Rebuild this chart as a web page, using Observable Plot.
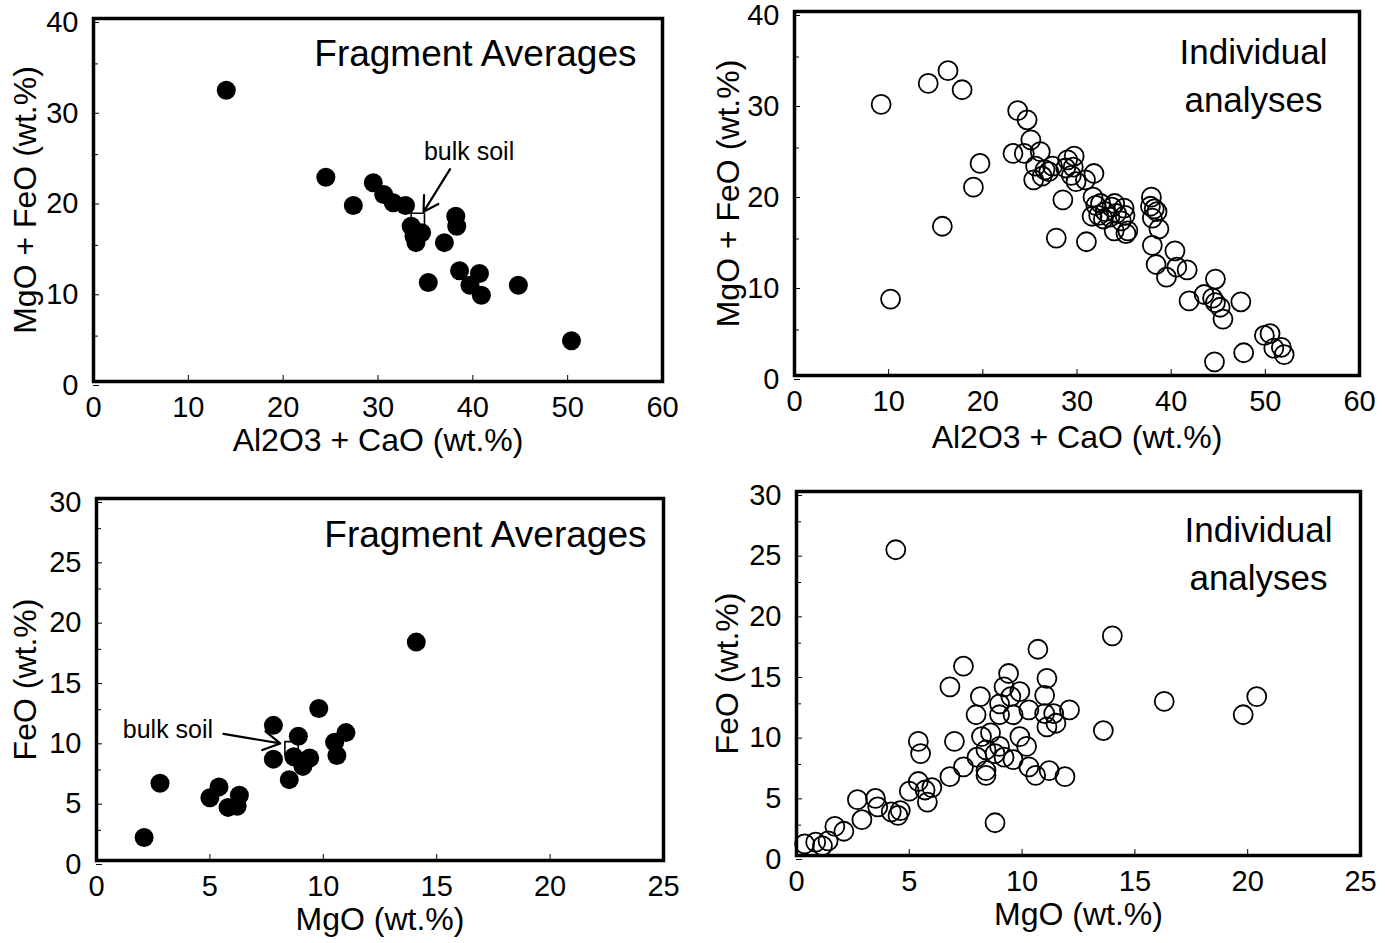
<!DOCTYPE html>
<html><head><meta charset="utf-8">
<script src="https://cdn.jsdelivr.net/npm/d3@7"></script>
<script src="https://cdn.jsdelivr.net/npm/@observablehq/plot@0.6"></script>
<style>
html,body{margin:0;padding:0;background:#fff;}
#wrap{position:relative;width:1385px;height:943px;background:#fff;overflow:hidden;}
.panel{position:absolute;}
</style></head>
<body><div id="wrap"></div>
<script>
// ---------- Data ----------
// Panel 1: Fragment averages, Al2O3+CaO vs MgO+FeO
const fragAlCa = [14.0, 24.5, 27.4, 29.5, 30.6, 31.6, 32.9, 33.5, 34.0, 34.6, 33.8, 38.2, 38.3, 37.0, 35.3, 38.6, 40.7, 39.7, 40.9, 44.8, 50.4];
const fragMgFe = [32.1, 22.5, 19.4, 21.9, 20.6, 19.7, 19.4, 17.1, 15.3, 16.4, 16.0, 18.2, 17.1, 15.3, 10.9, 12.2, 11.9, 10.6, 9.5, 10.6, 4.5];
// Panel 2: Individual analyses, Al2O3+CaO vs MgO+FeO
const indAlCa = [9.2,14.2,16.3,17.8,10.2,15.7,19.0,19.7,23.2,23.7,24.7,24.4,25.1,26.1,25.4,25.6,26.6,27.4,27.8,28.5,29.0,29.7,29.4,29.9,30.9,31.0,31.8,31.7,32.0,31.6,32.3,33.0,33.7,34.2,33.95,34.7,35.0,35.2,35.4,37.9,37.8,38.2,38.5,38.7,38.0,38.4,39.5,40.4,40.6,41.7,41.9,43.5,44.4,44.7,44.7,45.2,45.5,47.4,47.7,44.6,49.9,50.5,50.9,51.7,52.0,32.8,33.5,34.0,35.1,32.5,26.3,27.0,28.8,29.6,38.0];
const indMgFe = [29.8,32.1,33.5,31.4,8.4,16.4,20.7,23.3,24.4,29.1,28.1,24.4,25.9,24.6,21.5,23.0,22.6,23.0,15.1,19.3,23.7,24.1,22.0,21.3,21.5,14.7,22.2,19.6,18.7,17.5,17.6,18.0,18.5,17.8,15.9,17.0,18.4,15.6,15.9,19.6,18.6,18.3,18.0,16.1,14.3,12.2,10.8,13.7,11.9,11.6,8.2,8.9,8.5,10.6,8.0,7.5,6.2,8.1,2.5,1.5,4.4,4.6,3.0,3.1,2.3,17.2,17.4,18.9,17.6,18.9,21.9,22.4,22.8,22.9,17.3];
// Panel 3: Fragment averages, MgO vs FeO
const fragMgO = [2.1, 2.8, 5.0, 5.4, 5.8, 6.2, 6.3, 7.8, 7.8, 8.5, 8.9, 9.1, 9.4, 8.7, 9.8, 10.5, 10.6, 11.0, 14.1];
const fragFeO = [1.9, 6.4, 5.2, 6.1, 4.4, 4.5, 5.4, 11.2, 8.4, 6.7, 10.3, 7.8, 8.5, 8.6, 12.6, 9.8, 8.7, 10.6, 18.1];
// Panel 4: Individual analyses, MgO vs FeO
const indMgO = [4.4,14.0,10.7,7.4,6.8,9.4,9.2,9.9,9.5,11.1,11.0,8.15,9.0,7.96,9.0,9.6,10.3,11.0,11.4,12.1,11.1,11.5,16.3,20.4,19.8,13.6,5.4,5.5,7.0,8.2,8.6,9.9,10.2,8.0,8.4,8.8,9.2,9.6,9.0,8.4,8.4,7.4,6.8,10.3,10.6,11.2,11.9,6.0,5.4,5.7,5.8,5.0,2.7,3.5,3.6,2.9,4.2,4.5,4.6,8.8,2.1,1.7,1.4,0.85,0.36,1.15];
const indFeO = [25.2,18.1,17.0,15.6,13.9,15.0,13.9,13.5,13.1,14.6,13.2,13.1,12.5,11.6,11.6,11.6,12.0,11.7,11.7,12.0,10.6,10.9,12.7,13.1,11.6,10.3,9.4,8.4,9.4,9.8,10.1,9.8,9.0,8.1,8.7,8.4,8.1,7.9,9.0,7.0,6.6,7.3,6.5,7.3,6.6,7.0,6.5,5.6,6.1,5.4,4.4,5.3,4.6,4.7,4.0,2.95,3.6,3.3,3.7,2.7,2.0,2.4,1.2,1.1,0.96,0.8];
// Bulk soil composition and its annotation (label position, arrow start -> end)
const bulkSoilAlCaMgFe = [{x: 34.2, y: 17.8}];
const bulkSoilMgOFeO = [{x: 8.6, y: 9.3}];
const bulkLabel1 = [{x: 39.6, y: 25.3, text: "bulk soil"}];
const bulkArrow1 = [{x1: 37.6, y1: 23.4, x2: 34.8, y2: 18.7}];
const bulkLabel3 = [{x: 3.15, y: 10.8, text: "bulk soil"}];
const bulkArrow3 = [{x1: 5.6, y1: 10.5, x2: 8.1, y2: 9.7}];
// Tick labels and texts
const ticks40 = [0, 10, 20, 30, 40], minor40 = [5, 15, 25, 35];
const ticks60 = [0, 10, 20, 30, 40, 50, 60];
const ticks30 = [0, 5, 10, 15, 20, 25, 30], minor30 = [2.5, 7.5, 12.5, 17.5, 22.5, 27.5];
const ticks25 = [0, 5, 10, 15, 20, 25];
const xTitleTop = "Al2O3 + CaO (wt.%)", yTitleTop = "MgO + FeO (wt.%)";
const xTitleBottom = "MgO (wt.%)", yTitleBottom = "FeO (wt.%)";
const titleFrag = "Fragment Averages", titleInd = "Individual\nanalyses";

const zip = (xs, ys) => xs.map((x, i) => ({x, y: ys[i]}));
const FONT = "'Liberation Sans', Arial, Helvetica, sans-serif";

function panel(c) {
  const marks = [
    Plot.axisX({ticks: c.xTicks, tickSize: -6, tickPadding: 21, fontSize: 29, label: null, lineAnchor: "top"}),
    Plot.axisY({ticks: c.yTicks, tickSize: -6, tickPadding: 21, fontSize: 29, label: null, dy: 4}),
    Plot.axisY({ticks: c.yMinor, tickSize: -5, tickFormat: () => "", label: null}),
    Plot.text([c.xTitle], {text: d => d, frameAnchor: "bottom", lineAnchor: "middle", dy: c.xTitleDy, fontSize: 32}),
    Plot.text([c.yTitle], {text: d => d, frameAnchor: "left", rotate: -90, textAnchor: "middle", lineAnchor: "middle", dx: c.yTitleDx, fontSize: 32}),
    Plot.text([c.title], {text: d => d, frameAnchor: "top-right", textAnchor: c.titleAnchor, lineAnchor: "top", dx: c.titleDx, dy: c.titleDy, fontSize: c.titleSize, lineHeight: 1.36})
  ];
  if (c.bulk) {
    marks.push(Plot.dot(c.bulk, {x: "x", y: "y", symbol: "square", r: 7.5, fill: "white", stroke: "black", strokeWidth: 1.6}));
  }
  if (c.filled) {
    marks.push(Plot.dot(c.points, {x: "x", y: "y", r: 9.5, fill: "black", stroke: "none"}));
  } else {
    marks.push(Plot.dot(c.points, {x: "x", y: "y", r: 9.5, fill: "none", stroke: "black", strokeWidth: 1.8}));
  }
  if (c.label) {
    marks.push(Plot.text(c.label, {x: "x", y: "y", text: "text", fontSize: 25}));
    marks.push(Plot.arrow(c.arrow, {x1: "x1", y1: "y1", x2: "x2", y2: "y2", stroke: "black", strokeWidth: 2.2, headLength: 13, bend: 0}));
  }
  marks.push(Plot.frame({stroke: "black", strokeWidth: 3.5}));
  const svg = Plot.plot({
    width: c.width, height: c.height,
    marginLeft: c.m[0], marginRight: c.m[1], marginTop: c.m[2], marginBottom: c.m[3],
    x: {domain: c.xDomain, axis: null},
    y: {domain: c.yDomain, axis: null},
    style: {fontFamily: FONT, color: "black", background: "white", overflow: "visible"},
    marks
  });
  const div = document.createElement("div");
  div.className = "panel";
  div.style.left = c.left + "px";
  div.style.top = c.top + "px";
  div.appendChild(svg);
  document.getElementById("wrap").appendChild(div);
}

panel({left: 0, top: 0, width: 690, height: 470, m: [93, 28, 18, 89],
  xDomain: [0, 60], yDomain: [0, 40], xTicks: ticks60, yTicks: ticks40, yMinor: minor40,
  xTitle: xTitleTop, yTitle: yTitleTop, xTitleDy: 59, yTitleDx: -68,
  title: titleFrag, titleAnchor: "end", titleDx: -26, titleDy: 12, titleSize: 37,
  points: zip(fragAlCa, fragMgFe), filled: true,
  bulk: bulkSoilAlCaMgFe, label: bulkLabel1, arrow: bulkArrow1});

panel({left: 690, top: 0, width: 695, height: 470, m: [104, 26, 11, 95],
  xDomain: [0, 60], yDomain: [0, 40], xTicks: ticks60, yTicks: ticks40, yMinor: minor40,
  xTitle: xTitleTop, yTitle: yTitleTop, xTitleDy: 62, yTitleDx: -66,
  title: titleInd, titleAnchor: "middle", titleDx: -106, titleDy: 19, titleSize: 35,
  points: zip(indAlCa, indMgFe), filled: false});

panel({left: 0, top: 470, width: 690, height: 473, m: [96, 27, 28, 83],
  xDomain: [0, 25], yDomain: [0, 30], xTicks: ticks25, yTicks: ticks30, yMinor: minor30,
  xTitle: xTitleBottom, yTitle: yTitleBottom, xTitleDy: 59, yTitleDx: -71,
  title: titleFrag, titleAnchor: "end", titleDx: -17, titleDy: 13, titleSize: 37,
  points: zip(fragMgO, fragFeO), filled: true,
  bulk: bulkSoilMgOFeO, label: bulkLabel3, arrow: bulkArrow3});

panel({left: 690, top: 470, width: 695, height: 473, m: [106, 25, 21, 88],
  xDomain: [0, 25], yDomain: [0, 30], xTicks: ticks25, yTicks: ticks30, yMinor: minor30,
  xTitle: xTitleBottom, yTitle: yTitleBottom, xTitleDy: 59, yTitleDx: -69,
  title: titleInd, titleAnchor: "middle", titleDx: -102, titleDy: 17, titleSize: 35,
  points: zip(indMgO, indFeO), filled: false});
</script>
</body></html>
